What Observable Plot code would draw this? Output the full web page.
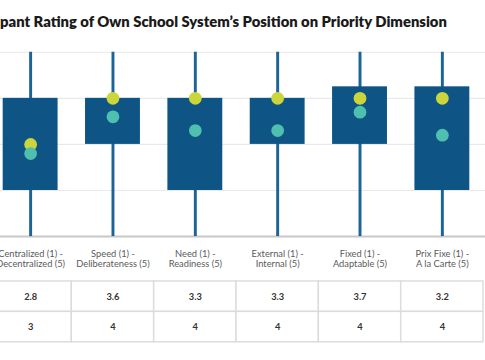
<!DOCTYPE html>
<html><head><meta charset="utf-8">
<script src="https://cdn.jsdelivr.net/npm/d3@7"></script>
<script src="https://cdn.jsdelivr.net/npm/@observablehq/plot@0.6"></script>
<style>
html,body{margin:0;padding:0;background:#fff;overflow:hidden;width:485px;height:360px}
#wrap{position:relative;width:485px;height:360px;overflow:hidden}
#title{position:absolute;top:14px;white-space:nowrap;font-family:Lato,"Open Sans",sans-serif;font-weight:800;line-height:1;color:#1a1a1a}
#chart{position:absolute;left:-13px;top:40px}
#table{position:absolute;left:-13px;top:280px}
svg{overflow:visible}
</style></head>
<body><div id="wrap"><div id="title"></div><div id="chart"></div><div id="table"></div></div>
<script>
const titleText = "Participant Rating of Own School System’s Position on Priority Dimension";
const categories = [
  "Centralized (1) -\nDecentralized (5)",
  "Speed (1) -\nDeliberateness (5)",
  "Need (1) -\nReadiness (5)",
  "External (1) -\nInternal (5)",
  "Fixed (1) -\nAdaptable (5)",
  "Prix Fixe (1) -\nA la Carte (5)"
];
const minValues    = [1, 1, 1, 1, 1, 1];
const q1Values     = [2, 3, 2, 3, 3, 2];
const q3Values     = [4, 4, 4, 4, 4.25, 4.25];
const maxValues    = [5, 5, 5, 5, 5, 5];
const medianValues = [3, 4, 4, 4, 4, 4];
const meanValues   = [2.8, 3.6, 3.3, 3.3, 3.7, 3.2];
const gridTicks = [2, 3, 4, 5];
const baseTick = [1];
const rowNames = ["Mean", "Median"];

const data = categories.map((c, i) => ({
  cat: c, min: minValues[i], q1: q1Values[i], q3: q3Values[i], max: maxValues[i],
  median: medianValues[i], mean: meanValues[i]
}));
const tableData = [];
categories.forEach((c, i) => {
  tableData.push({cat: c, row: rowNames[0], label: meanValues[i].toFixed(1)});
  tableData.push({cat: c, row: rowNames[1], label: String(medianValues[i])});
});

const font = "Lato, 'Open Sans', sans-serif";
const W = 508;

// Title: fit visible portion (cropped at left as in reference)
(function(){
  const el = document.getElementById("title");
  el.textContent = titleText;
  const cv = document.createElement("canvas").getContext("2d");
  const hidden = "Partici";
  cv.font = "800 14px Lato";
  const vis14 = cv.measureText(titleText).width - cv.measureText(hidden).width;
  const fs = 14 * 448 / vis14;
  cv.font = "800 " + fs + "px Lato";
  el.style.fontSize = fs + "px";
  el.style.left = (-cv.measureText(hidden).width) + "px";
})();

const chart = Plot.plot({
  width: W, height: 241,
  marginLeft: 0, marginRight: 0, marginTop: 12, marginBottom: 41,
  style: {fontFamily: font, fontSize: "9.5px", background: "transparent"},
  x: {domain: categories, padding: 0, axis: null},
  y: {domain: [1, 5], axis: null},
  marks: [
    Plot.ruleY(gridTicks, {stroke: "#e9e9e9", strokeWidth: 1.2}),
    Plot.ruleY(baseTick, {stroke: "#c8c8c8", strokeWidth: 2}),
    Plot.ruleX(data, {x: "cat", y1: "min", y2: "max", stroke: "#1c6496", strokeWidth: 3}),
    Plot.barY(data, {x: "cat", y1: "q1", y2: "q3", fill: "#0e5585", insetLeft: 14, insetRight: 14}),
    Plot.dot(data, {x: "cat", y: "median", r: 6.5, fill: "#cad63b"}),
    Plot.dot(data, {x: "cat", y: "mean", r: 6.5, fill: "#4fc0b0"}),
    Plot.axisX({anchor: "bottom", tickSize: 0, tickPadding: 8, lineHeight: 1.1, fill: "#5a5a5a", fontSize: 9.5, label: null, dy: 5})
  ]
});
document.getElementById("chart").append(chart);

const table = Plot.plot({
  width: W, height: 65,
  marginLeft: 0, marginRight: 0, marginTop: 1, marginBottom: 2,
  style: {fontFamily: font, background: "transparent"},
  x: {domain: categories, padding: 0, axis: null},
  y: {domain: rowNames, padding: 0, axis: null},
  marks: [
    Plot.cell(tableData, {x: "cat", y: "row", fill: "white", stroke: "#dcdcdc", strokeWidth: 1.5}),
    Plot.text(tableData, {x: "cat", y: "row", text: "label", fill: "#333", fontWeight: "bold", fontSize: 9.5})
  ]
});
document.getElementById("table").append(table);
</script>
</body></html>
